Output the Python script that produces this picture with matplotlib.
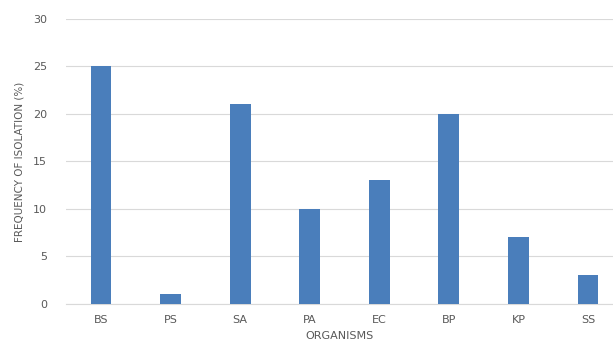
import numpy as np
import matplotlib.pyplot as plt

organisms = ['BS', 'PS', 'SA', 'PA', 'EC', 'BP', 'KP', 'SS']
frequency = [25, 1, 21, 10, 13, 20, 7, 3]

fig = plt.figure(figsize=(6.13, 3.45), dpi=100)
ax = fig.add_axes([0.108, 0.119, 0.892, 0.826])

x = np.arange(len(organisms))
ax.bar(x, frequency, width=0.3, color='#4a7ebb', zorder=3)

ax.set_ylim(0, 30)
ax.set_yticks(range(0, 31, 5))
ax.set_xlim(-0.5, 7.36)
ax.set_xticks(x)
ax.set_xticklabels(organisms)

ax.grid(axis='y', color='#d9d9d9', linewidth=0.8, zorder=0)
for s in ['top', 'right', 'left']:
    ax.spines[s].set_visible(False)
ax.spines['bottom'].set_color('#d9d9d9')
ax.tick_params(axis='both', length=0, labelsize=8, colors='#595959', pad=8)
ax.tick_params(axis='y', pad=14)

ax.set_ylabel('FREQUENCY OF ISOLATION (%)', fontsize=7.5, color='#595959', labelpad=6)
ax.set_xlabel('ORGANISMS', fontsize=8, color='#595959', labelpad=4)

fig.savefig('out.png', dpi=100)
